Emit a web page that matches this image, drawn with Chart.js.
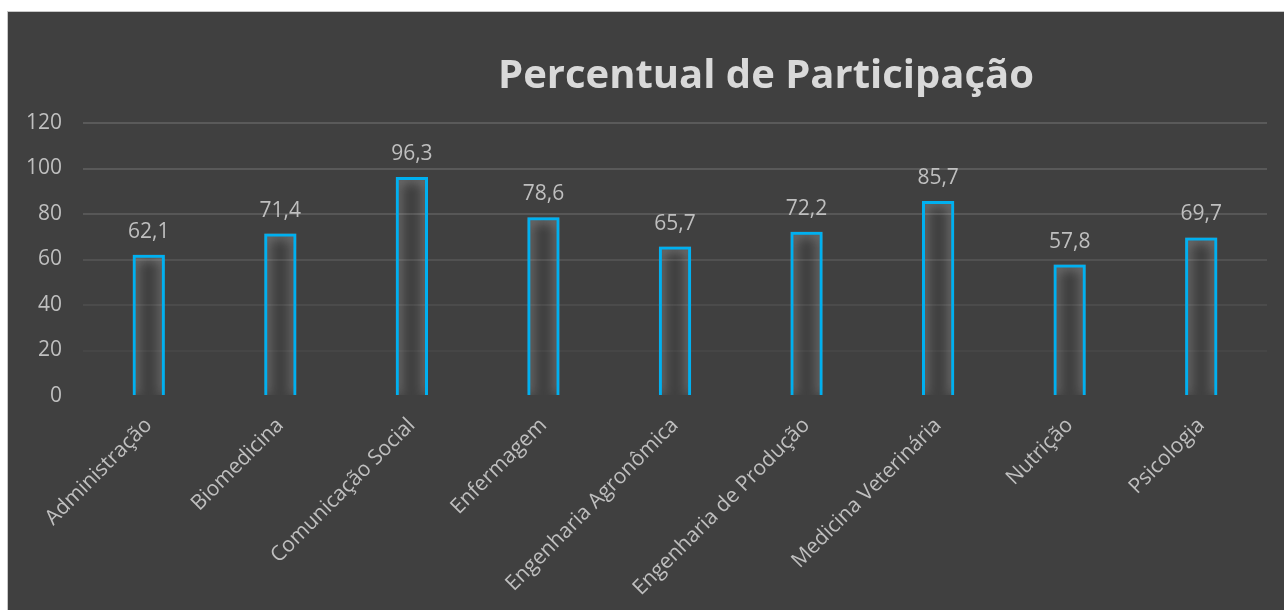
<!DOCTYPE html>
<html>
<head>
<meta charset="utf-8">
<script src="https://cdn.jsdelivr.net/npm/chart.js@4/dist/chart.umd.min.js"></script>
<style>
  html, body { margin: 0; padding: 0; background: #ffffff; }
  body { width: 1284px; height: 610px; position: relative; overflow: hidden; }
  #frame { position: absolute; left: 7px; top: 11px; width: 1277px; height: 599px; background: #c8c8c8; }
  #wrap { position: absolute; left: 8px; top: 12px; width: 1276px; height: 598px; background: #404040; }
</style>
</head>
<body>
<div id="frame"></div>
<div id="wrap"><canvas id="c" width="1276" height="598"></canvas></div>
<script>
const titleText = 'Percentual de Participação';
const categories = ['Administração', 'Biomedicina', 'Comunicação Social', 'Enfermagem', 'Engenharia Agronômica', 'Engenharia de Produção', 'Medicina Veterinária', 'Nutrição', 'Psicologia'];
const values = [62.1, 71.4, 96.3, 78.6, 65.7, 72.2, 85.7, 57.8, 69.7];
const yTicks = [0, 20, 40, 60, 80, 100, 120];
const gridShades = ['rgba(0,0,0,0)', '#464646', '#4b4b4b', '#515151', '#575757', '#595959', '#5a5a5a'];

const FONT = "'Open Sans', 'DejaVu Sans', sans-serif";
const TEXT = '#bfbfbf';

const fmt = v => v.toFixed(1).replace('.', ',');

const titlePlugin = {
  id: 'customTitle',
  afterDraw(chart) {
    const ctx = chart.ctx;
    ctx.save();
    ctx.font = `bold 40px ${FONT}`;
    ctx.fillStyle = '#d9d9d9';
    ctx.textAlign = 'center';
    ctx.textBaseline = 'alphabetic';
    ctx.fillText(titleText, 758, 76);
    ctx.restore();
  }
};

const glowPlugin = {
  id: 'glow',
  beforeDatasetDraw(chart) {
    const ctx = chart.ctx;
    ctx.save();
    ctx.shadowColor = 'rgba(220,220,220,0.85)';
    ctx.shadowBlur = 12;
  },
  afterDatasetDraw(chart) {
    chart.ctx.restore();
  }
};

const labelPlugin = {
  id: 'valueLabels',
  afterDatasetsDraw(chart) {
    const ctx = chart.ctx;
    const meta = chart.getDatasetMeta(0);
    ctx.save();
    ctx.font = `21px ${FONT}`;
    ctx.fillStyle = TEXT;
    ctx.textAlign = 'center';
    ctx.textBaseline = 'alphabetic';
    meta.data.forEach((bar, i) => {
      ctx.fillText(fmt(values[i]), bar.x, bar.y - 17);
    });
    ctx.restore();
  }
};

new Chart(document.getElementById('c'), {
  type: 'bar',
  data: {
    labels: categories,
    datasets: [{
      data: values,
      backgroundColor: 'rgba(0,0,0,0)',
      borderColor: '#00b0f0',
      borderWidth: 3,
      barPercentage: 1,
      categoryPercentage: 0.245
    }]
  },
  options: {
    responsive: false,
    animation: false,
    layout: { padding: { top: 111, right: 17, left: 0, bottom: 0 } },
    plugins: {
      legend: { display: false },
      title: { display: false },
      tooltip: { enabled: false }
    },
    scales: {
      x: {
        grid: { display: false },
        border: { display: false },
        ticks: {
          color: TEXT,
          font: { family: FONT, size: 21 },
          maxRotation: 45,
          minRotation: 45,
          padding: 9
        },
        afterFit(scale) { scale.height = 214; }
      },
      y: {
        min: 0,
        max: 120,
        afterBuildTicks(scale) { scale.ticks = yTicks.map(v => ({ value: v })); },
        grid: {
          color: ctx => gridShades[ctx.index] || '#595959',
          lineWidth: 2,
          drawTicks: false
        },
        border: { display: false },
        ticks: {
          color: TEXT,
          font: { family: FONT, size: 21 },
          padding: 21
        },
        afterFit(scale) { scale.width = 75; }
      }
    }
  },
  plugins: [glowPlugin, labelPlugin, titlePlugin]
});
</script>
</body>
</html>
